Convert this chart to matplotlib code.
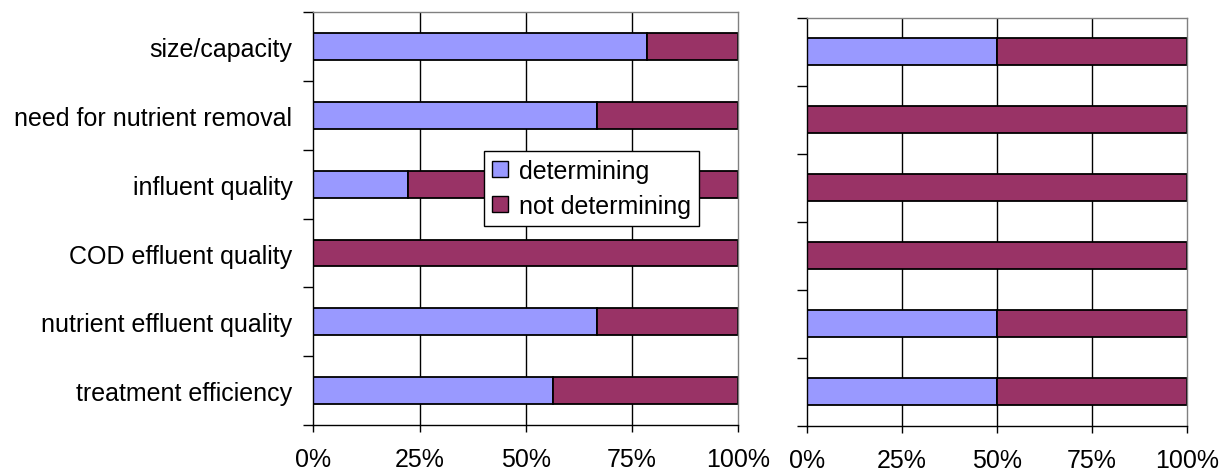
import matplotlib
matplotlib.use("Agg")
import matplotlib.pyplot as plt
import numpy as np
from matplotlib.ticker import FixedLocator, NullFormatter

plt.rcParams['font.family'] = ['Liberation Sans', 'DejaVu Sans']

categories = [
    "size/capacity",
    "need for nutrient removal",
    "influent quality",
    "COD effluent quality",
    "nutrient effluent quality",
    "treatment efficiency",
]
series_names = ["determining", "not determining"]
left_determining = [78.5, 66.7, 22.2, 0.0, 66.7, 56.3]
right_determining = [50.0, 0.0, 0.0, 0.0, 50.0, 50.0]
x_ticks = [0, 25, 50, 75, 100]
x_tick_labels = ["0%", "25%", "50%", "75%", "100%"]

BLUE = "#9999FF"
MAROON = "#993366"
FS = 18

fig = plt.figure(figsize=(12.22, 4.77), dpi=100)
W, H = 1222, 477


def axes_px(x0, y0, x1, y1):
    return fig.add_axes([x0 / W, 1 - y1 / H, (x1 - x0) / W, (y1 - y0) / H])


ax_l = axes_px(313.3, 13.3, 738.3, 426.0)
ax_r = axes_px(806.7, 18.5, 1186.7, 426.7)


def draw_panel(ax, det, show_labels):
    det = np.asarray(det, dtype=float)
    not_det = 100.0 - det
    n = len(categories)
    y = np.arange(n)[::-1]
    ax.set_xlim(0, 100)
    ax.set_ylim(-0.5, n - 0.5)
    for gx in x_ticks[1:-1]:
        ax.axvline(gx, color="black", lw=1.0, zorder=1)
    b1 = ax.barh(y, det, height=0.39, color=BLUE, edgecolor="black",
                 linewidth=1.3, zorder=2, label=series_names[0])
    b2 = ax.barh(y, not_det, left=det, height=0.39, color=MAROON,
                 edgecolor="black", linewidth=1.3, zorder=2,
                 label=series_names[1])
    ax.set_xticks(x_ticks)
    ax.set_xticklabels(x_tick_labels, fontsize=FS)
    ax.tick_params(axis="x", direction="out", length=5, width=1,
                   pad=11, color="black")
    ax.yaxis.set_major_locator(FixedLocator(np.arange(-0.5, n, 1.0)))
    ax.yaxis.set_major_formatter(NullFormatter())
    ax.yaxis.set_minor_locator(FixedLocator(y))
    if show_labels:
        ax.set_yticks(y, minor=True)
        ax.set_yticklabels(categories, minor=True, fontsize=FS)
    ax.tick_params(axis="y", which="major", direction="out", length=7,
                   width=1, color="black")
    ax.tick_params(axis="y", which="minor", length=0, pad=15)
    for side in ("left", "bottom"):
        ax.spines[side].set_color("black")
        ax.spines[side].set_linewidth(1.0)
    for side in ("top", "right"):
        ax.spines[side].set_color("#808080")
        ax.spines[side].set_linewidth(1.0)
    return b1, b2


b1, b2 = draw_panel(ax_l, left_determining, True)
draw_panel(ax_r, right_determining, False)

leg = fig.legend(
    [b1, b2], series_names,
    loc="upper left",
    bbox_to_anchor=(484 / W, 1 - 152.3 / H),
    fontsize=FS, frameon=True, fancybox=False, shadow=False,
    handlelength=0.66, handleheight=0.62, handletextpad=0.45,
    borderpad=0.3, labelspacing=0.45, borderaxespad=0.0,
)
leg.get_frame().set_edgecolor("black")
leg.get_frame().set_linewidth(1.0)
leg.get_frame().set_alpha(1.0)
for h in leg.legend_handles:
    h.set_linewidth(1.0)

fig.savefig("out.png", dpi=100)
